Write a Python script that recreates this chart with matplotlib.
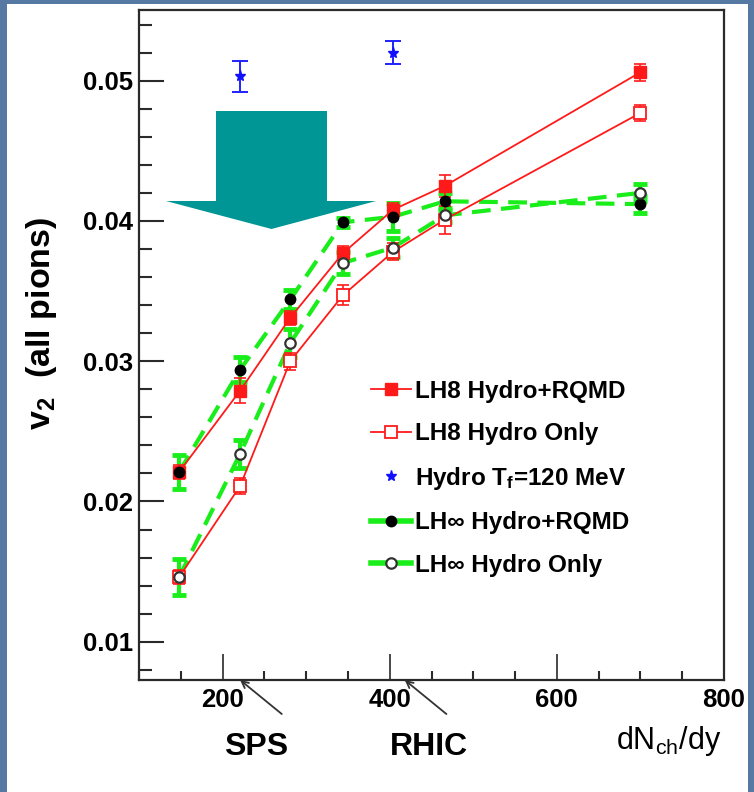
import matplotlib
matplotlib.use("Agg")
import matplotlib.pyplot as plt
from matplotlib.lines import Line2D
from matplotlib.patches import Polygon, Rectangle
from matplotlib.ticker import MultipleLocator

plt.rcParams['font.family'] = ['Liberation Sans', 'DejaVu Sans']
plt.rcParams['mathtext.default'] = 'regular'

# dN_ch/dy values of the calculations
dndy = [148, 221, 281, 344, 404, 466, 700]

# LH8 (lattice-inspired EoS) results
lh8_rqmd = [0.0221, 0.0279, 0.0331, 0.0377, 0.0408, 0.0425, 0.0506]
lh8_rqmd_err = [0.0005, 0.0009, 0.0005, 0.0005, 0.0005, 0.0008, 0.0006]
lh8_hydro = [0.0146, 0.0211, 0.0300, 0.0347, 0.0378, 0.0401, 0.0477]
lh8_hydro_err = [0.0005, 0.0006, 0.0006, 0.0007, 0.0006, 0.0010, 0.0006]

# LH-infinity results
lhinf_rqmd = [0.0221, 0.0294, 0.0344, 0.0399, 0.0403, 0.0414, 0.0412]
lhinf_rqmd_err = [0.0012, 0.0009, 0.0007, 0.0003, 0.0010, 0.0006, 0.0006]
lhinf_hydro = [0.0146, 0.0234, 0.0313, 0.0370, 0.0381, 0.0404, 0.0420]
lhinf_hydro_err = [0.0013, 0.0010, 0.0010, 0.0008, 0.0007, 0.0005, 0.0006]

# pure hydro with Tf = 120 MeV
tf120_x = [221, 404]
tf120_v2 = [0.0503, 0.0520]
tf120_err = [0.0011, 0.0008]

legend_labels = ["LH8 Hydro+RQMD", "LH8 Hydro Only", "Hydro T$_f$=120 MeV",
                 "LH\u221e Hydro+RQMD", "LH\u221e Hydro Only"]
x_ticks = [200, 400, 600, 800]
y_ticks = [0.01, 0.02, 0.03, 0.04, 0.05]

W, H = 754, 792
fig = plt.figure(figsize=(W / 100, H / 100), dpi=100)
fig.patch.set_facecolor('#5679a3')
fig.add_artist(Rectangle((7 / W, 0), (748 - 7) / W, 1 - 4 / H,
                         transform=fig.transFigure, facecolor='white',
                         edgecolor='none', zorder=0))

ax = fig.add_axes([139 / W, 1 - 680 / H, (724 - 139) / W, (680 - 10) / H])
ax.set_xlim(100, 800)
ax.set_ylim(0.00727, 0.05504)

RED = '#ff1a1a'
GREEN = '#1aee1a'

# LH-infinity: thick dashed green lines with heavy error bars
ax.errorbar(dndy, lhinf_rqmd, yerr=lhinf_rqmd_err, fmt='none', ecolor=GREEN,
            elinewidth=3.0, capsize=5, capthick=3.5, zorder=2)
ax.errorbar(dndy, lhinf_hydro, yerr=lhinf_hydro_err, fmt='none', ecolor=GREEN,
            elinewidth=3.0, capsize=5, capthick=3.5, zorder=2)
ax.plot(dndy, lhinf_rqmd, ls=(0, (4.5, 2.5)), lw=3.0, color=GREEN, zorder=2)
ax.plot(dndy, lhinf_hydro, ls=(0, (4.5, 2.5)), lw=3.0, color=GREEN, zorder=2)

# LH8: thin red lines
ax.errorbar(dndy, lh8_rqmd, yerr=lh8_rqmd_err, fmt='none', ecolor=RED,
            elinewidth=1.2, capsize=4, capthick=1.2, zorder=3)
ax.errorbar(dndy, lh8_hydro, yerr=lh8_hydro_err, fmt='none', ecolor=RED,
            elinewidth=1.2, capsize=4, capthick=1.2, zorder=3)
ax.plot(dndy, lh8_rqmd, '-', color=RED, lw=1.3, marker='s', ms=8,
        mfc=RED, mec=RED, zorder=3)
ax.plot(dndy, lh8_hydro, '-', color=RED, lw=1.3, marker='s', ms=8,
        mfc='white', mec=RED, mew=1.3, zorder=3)

# black markers on top
ax.plot(dndy, lhinf_rqmd, ls='none', marker='o', ms=7.5, mfc='black',
        mec='black', zorder=4)
ax.plot(dndy, lhinf_hydro, ls='none', marker='o', ms=7.5, mfc='white',
        mec='#333333', mew=1.6, zorder=4)

# Tf = 120 MeV points
ax.errorbar(tf120_x, tf120_v2, yerr=tf120_err, fmt='none', ecolor='#2020ff',
            elinewidth=1.4, capsize=6, capthick=1.4, zorder=4)
ax.plot(tf120_x, tf120_v2, ls='none', marker='*', ms=8, color='#1010ff',
        zorder=5)

# axes styling
for side in ['top', 'right', 'left', 'bottom']:
    ax.spines[side].set_linewidth(1.6)
    ax.spines[side].set_color('#2a2a2a')
ax.set_xticks(x_ticks)
ax.set_yticks(y_ticks)
ax.xaxis.set_minor_locator(MultipleLocator(50))
ax.yaxis.set_minor_locator(MultipleLocator(0.002))
ax.tick_params(axis='y', which='major', direction='in', length=18, width=1.5,
               color='#2a2a2a', pad=4, labelsize=18.5)
ax.tick_params(axis='y', which='minor', direction='in', length=9.5, width=1.5,
               color='#2a2a2a')
ax.tick_params(axis='x', which='major', direction='in', length=18.5, width=1.2,
               color='#2a2a2a', pad=6, labelsize=18.5)
ax.tick_params(axis='x', which='minor', direction='in', length=6.5, width=1.5,
               color='#2a2a2a')
ax.tick_params(top=False, right=False)
ax.set_xticklabels([str(t) for t in x_ticks])
ax.set_yticklabels(['%.2f' % t for t in y_ticks])
for lab in ax.get_xticklabels() + ax.get_yticklabels():
    lab.set_fontweight('bold')

# axis titles
fig.text(42 / W, 1 - 323 / H, "v$_2$  (all pions)", rotation=90, ha='center',
         va='center', fontsize=24.5, fontweight='bold')
fig.text(721 / W, 1 - 749 / H, "dN$_{ch}$/dy", ha='right', va='baseline',
         fontsize=22)

# collision energy markers
for xpos, name, cx in [(221, "SPS", 256), (418, "RHIC", 429)]:
    ax.annotate("", xy=(xpos, 0.0), xycoords=('data', 'axes fraction'),
                xytext=(30, -24.5), textcoords='offset points',
                arrowprops=dict(arrowstyle='->', color='#333333', lw=1.3,
                                shrinkA=0, shrinkB=0, mutation_scale=12))
    fig.text(cx / W, 1 - 755 / H, name, ha='center', va='baseline',
             fontsize=23, fontweight='bold')

# legend
handles = [
    Line2D([], [], color=RED, lw=1.3, marker='s', ms=8, mfc=RED, mec=RED),
    Line2D([], [], color=RED, lw=1.3, marker='s', ms=8, mfc='white', mec=RED,
           mew=1.3),
    Line2D([], [], ls='none', marker='*', ms=8, color='#1010ff'),
    Line2D([], [], color=GREEN, lw=4, marker='o', ms=7.5, mfc='black',
           mec='black'),
    Line2D([], [], color=GREEN, lw=4, marker='o', ms=7.5, mfc='white',
           mec='#333333', mew=1.6),
]
leg = ax.legend(handles, legend_labels, loc='upper left',
                bbox_to_anchor=(371 / W, 1 - 380 / H),
                bbox_transform=fig.transFigure, frameon=False,
                prop={'size': 17.5, 'weight': 'bold'}, handlelength=1.65,
                handletextpad=0.18, labelspacing=0.8, borderpad=0,
                borderaxespad=0)

# teal block arrow pointing down onto the curves
arrow_px = [(216, 111), (327, 111), (327, 201), (376, 201), (271.5, 229),
            (166, 201), (216, 201)]
fig.add_artist(Polygon([(x / W, 1 - y / H) for x, y in arrow_px], closed=True,
                       transform=fig.transFigure, facecolor='#009696',
                       edgecolor='none', zorder=10))

fig.savefig("out.png", dpi=100)
